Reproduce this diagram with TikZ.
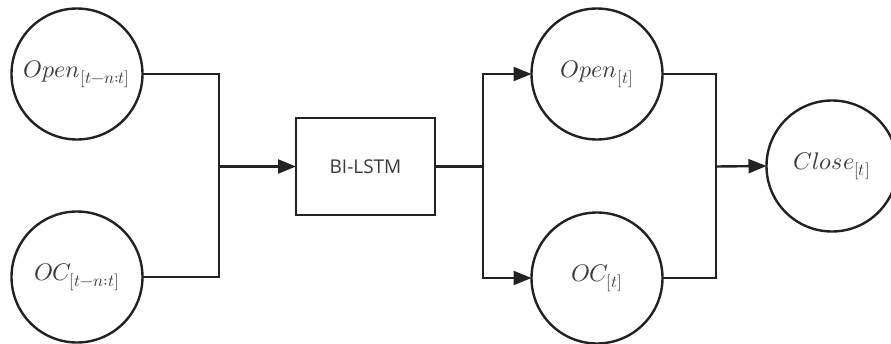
\documentclass[tikz,border=0pt]{standalone}
\usepackage{fontspec}
\usepackage{unicode-math}
\setmathfont{Latin Modern Math}
\newfontfamily\boxfont{Open Sans}
\usetikzlibrary{arrows.meta}
\definecolor{ln}{HTML}{222222}
\definecolor{tx}{HTML}{3A3A3A}
\tikzset{
  circ/.style={circle, draw=ln, line width=2.4pt, minimum size=131pt, inner sep=0pt, outer sep=0pt, text=tx, font=\fontsize{24}{28}\selectfont},
  lstm/.style={rectangle, draw=ln, line width=2.4pt, minimum width=139pt, minimum height=97pt, inner sep=0pt, outer sep=0pt, text=tx, font=\boxfont\fontsize{19}{22}\selectfont},
  conn/.style={draw=ln, line width=2.4pt},
  arr/.style={conn, -{Triangle[length=18pt,width=14pt]}}
}
\begin{document}
\begin{tikzpicture}[x=1pt,y=-1pt]
\useasboundingbox (0,0) rectangle (891,343);
\node[circ] (o1) at (77,74) {$Open_{[t-n:t]}$};
\node[circ] (o2) at (77,277) {$OC_{[t-n:t]}$};
\node[lstm] (b) at (365.5,166.5) {BI-LSTM};
\node[circ] (p1) at (597,74) {$Open_{[t]}$};
\node[circ] (p2) at (597,278) {$OC_{[t]}$};
\node[circ] (c) at (832,166) {$Close_{[t]}$};
\coordinate (j1) at (219,166.5);
\coordinate (j2) at (483,166.5);
\coordinate (j3) at (716,166.5);
\draw[conn] (o1.east) -- (o1.east -| j1) -- (o2.east -| j1) -- (o2.east);
\draw[arr] (j1) -- (b.west);
\draw[conn] (b.east) -- (j2);
\draw[arr] (j2) -- (j2 |- p1.west) -- (p1.west);
\draw[arr] (j2) -- (j2 |- p2.west) -- (p2.west);
\draw[conn] (p1.east) -- (p1.east -| j3) -- (p2.east -| j3) -- (p2.east);
\draw[arr] (j3) -- (c.west);
\end{tikzpicture}
\end{document}
